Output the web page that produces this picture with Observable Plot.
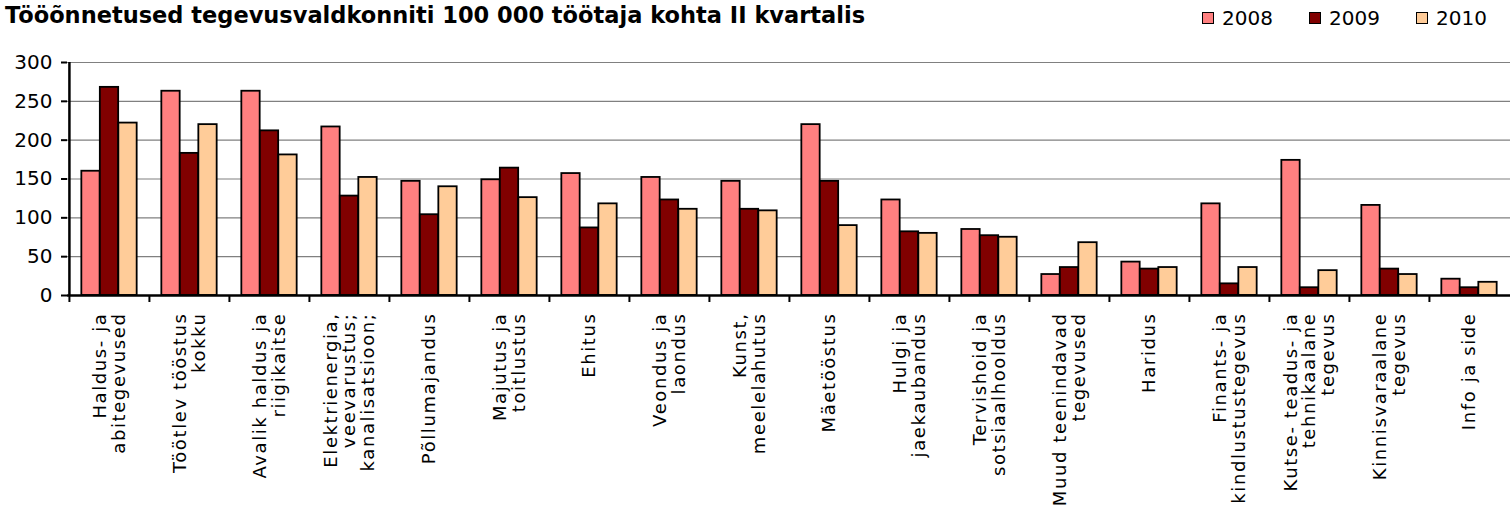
<!DOCTYPE html>
<html><head><meta charset="utf-8">
<script src="https://cdn.jsdelivr.net/npm/d3@7"></script>
<script src="https://cdn.jsdelivr.net/npm/@observablehq/plot@0.6"></script>
<style>
body{margin:0;background:#fff;font-family:"DejaVu Sans",Verdana,sans-serif;}
#head{position:relative;height:40px;width:1510px;}
#title{position:absolute;left:5px;top:2px;font-weight:bold;font-size:22.5px;white-space:nowrap;}
#legend{position:absolute;left:1202px;top:6px;display:flex;}
.item{display:flex;align-items:center;width:107px;font-size:20px;}
.sw{width:10px;height:10px;border:1px solid #000;margin-right:8px;}
g[aria-label="x-axis tick label"] text{letter-spacing:1.6px;}
</style></head>
<body>
<div id="head"><div id="title"></div><div id="legend"></div></div>
<div id="chart"></div>
<script>
const title = "Tööõnnetused tegevusvaldkonniti 100 000 töötaja kohta II kvartalis";
const categories = ["Haldus- ja\nabitegevused","Töötlev tööstus\nkokku","Avalik haldus ja\nriigikaitse","Elektrienergia,\nveevarustus;\nkanalisatsioon;","Põllumajandus","Majutus ja\ntoitlustus","Ehitus","Veondus ja\nlaondus","Kunst,\nmeelelahutus","Mäetööstus","Hulgi ja\njaekaubandus","Tervishoid ja\nsotsiaalhooldus","Muud teenindavad\ntegevused","Haridus","Finants- ja\nkindlustustegevus","Kutse- teadus- ja\ntehnikaalane\ntegevus","Kinnisvaraalane\ntegevus","Info ja side"];
const years = ["2008","2009","2010"];
const v2008 = [160,263,263,217,147,149,157,152,147,220,123,85,27,43,118,174,116,21];
const v2009 = [268,183,212,128,104,164,87,123,111,147,82,77,36,34,15,10,34,10];
const v2010 = [222,220,181,152,140,126,118,111,109,90,80,75,68,36,36,32,27,17];
const colors = ["#FF8080","#800000","#FFCC99"];
const yTicks = [0,50,100,150,200,250,300];

document.getElementById("title").textContent = title;
const leg = document.getElementById("legend");
years.forEach((y,i)=>{
  const it = document.createElement("div"); it.className="item";
  const sw = document.createElement("div"); sw.className="sw"; sw.style.background=colors[i];
  const t = document.createElement("span"); t.textContent=y;
  it.appendChild(sw); it.appendChild(t); leg.appendChild(it);
});

const series = [v2008, v2009, v2010];
const W = 1510, ML = 67, MR = 0;
const step = (W - ML - MR) / categories.length;
const barW = 18.5;
const inset = (step - barW) / 2;

const barMarks = series.map((vals, si) => Plot.barY(
  categories.map((c, i) => ({cat: c, v: vals[i]})),
  {x: "cat", y: "v", fill: colors[si], stroke: "#000", strokeWidth: 1.8,
   insetLeft: inset, insetRight: inset, dx: (si - 1) * barW}
));

const chart = Plot.plot({
  width: W, height: 465,
  marginLeft: ML, marginRight: MR, marginTop: 22, marginBottom: 210,
  style: {fontFamily: "DejaVu Sans, Verdana, sans-serif", fontSize: "18px", color: "#000", background: "#fff"},
  x: {domain: categories, padding: 0},
  y: {domain: [0, 300]},
  marks: [
    Plot.gridY(yTicks, {stroke: "#808080", strokeOpacity: 1, strokeWidth: 1.2}),
    ...barMarks,
    Plot.ruleY([0], {stroke: "#000", strokeWidth: 2.5}),
    Plot.ruleX([categories[0]], {x: d => d, dx: -step / 2, y1: 0, y2: 300, stroke: "#000", strokeWidth: 2.5}),
    Plot.ruleX(categories, {x: d => d, dx: -step / 2, y1: 0, y2: 0, insetBottom: -7, stroke: "#000", strokeWidth: 2}),
    Plot.axisY(yTicks, {tickSize: 6, tickPadding: 9, fontSize: 20, strokeWidth: 2, label: null}),
    Plot.axisX({tickSize: 0, tickRotate: -90, tickPadding: 17, fontSize: 18, lineHeight: 1.02, label: null})
  ]
});
document.getElementById("chart").appendChild(chart);
</script>
</body></html>
